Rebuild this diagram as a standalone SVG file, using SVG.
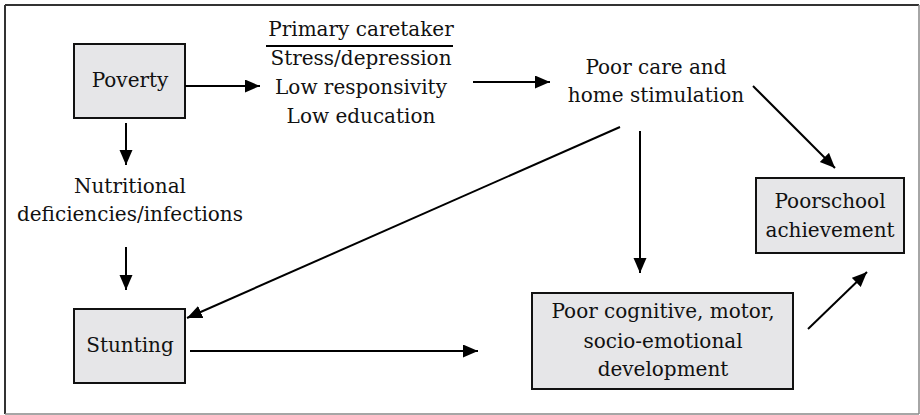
<svg xmlns="http://www.w3.org/2000/svg" width="920" height="415" viewBox="0 0 920 415">
<defs>
<marker id="ah" markerUnits="userSpaceOnUse" markerWidth="16" markerHeight="14" refX="15" refY="6.5" orient="auto">
<path d="M0,0 L15,6.5 L0,13 Z" fill="#000"/>
</marker>
<style>
text{font-family:"DejaVu Serif","Liberation Serif",serif;font-size:20px;fill:#111;text-anchor:middle}
.box{fill:#e6e6e8;stroke:#111;stroke-width:2}
.c{stroke:#000;stroke-width:2;fill:none}
.a{marker-end:url(#ah)}
</style>
</defs>
<rect x="0" y="0" width="920" height="415" fill="#fff"/>
<g id="frame">
<line x1="5" y1="5" x2="919" y2="5" stroke="#333" stroke-width="2"/>
<line x1="5" y1="5" x2="5" y2="414" stroke="#333" stroke-width="2"/>
<line x1="919" y1="5" x2="919" y2="414" stroke="#888" stroke-width="1.5"/>
<line x1="5" y1="414" x2="919" y2="414" stroke="#888" stroke-width="1.5"/>
</g>
<g id="poverty">
<rect class="box" x="74" y="44" width="111" height="74"/>
<text x="130" y="87">Poverty</text>
</g>
<g id="caretaker">
<text x="361" y="36">Primary caretaker</text>
<line x1="266" y1="46" x2="453" y2="46" stroke="#000" stroke-width="2"/>
<text x="361" y="65">Stress/depression</text>
<text x="361" y="94">Low responsivity</text>
<text x="361" y="123">Low education</text>
</g>
<g id="poorcare">
<text x="656" y="74">Poor care and</text>
<text x="656" y="102">home stimulation</text>
</g>
<g id="nutrition">
<text x="130" y="193">Nutritional</text>
<text x="130" y="221">deficiencies/infections</text>
</g>
<g id="school">
<rect class="box" x="756" y="178" width="148" height="75"/>
<text x="830" y="208">Poorschool</text>
<text x="830" y="237">achievement</text>
</g>
<g id="stunting">
<rect class="box" x="74" y="309" width="111" height="74"/>
<text x="130" y="352">Stunting</text>
</g>
<g id="development">
<rect class="box" x="532" y="293" width="261" height="96"/>
<text x="663" y="318">Poor cognitive, motor,</text>
<text x="663" y="348">socio-emotional</text>
<text x="663" y="376">development</text>
</g>
<g id="connectors">
<line class="c a" x1="185" y1="86" x2="260" y2="86"/>
<line class="c a" x1="126" y1="123" x2="126" y2="165"/>
<line class="c a" x1="473" y1="82" x2="550" y2="82"/>
<line class="c a" x1="753" y1="86" x2="835" y2="168"/>
<line class="c a" x1="640" y1="131" x2="640" y2="273"/>
<line class="c a" x1="620" y1="127" x2="187" y2="318"/>
<line class="c a" x1="126" y1="247" x2="126" y2="290"/>
<line class="c a" x1="190" y1="351" x2="478" y2="351"/>
<line class="c a" x1="808" y1="329" x2="867" y2="272"/>
</g>
</svg>
